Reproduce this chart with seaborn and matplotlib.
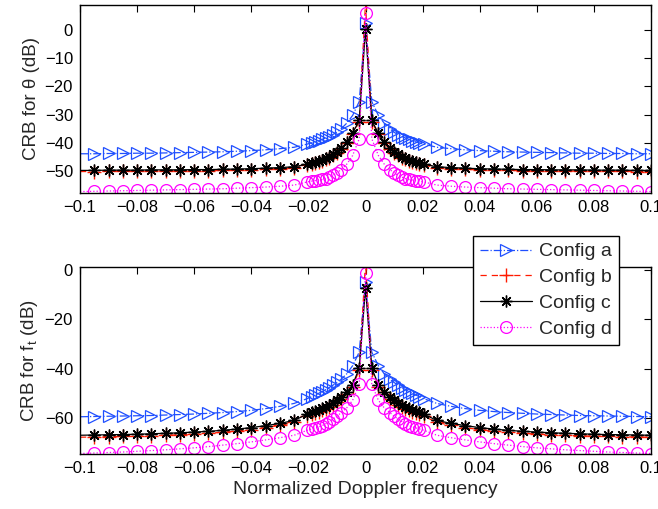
import numpy as np
import pandas as pd
import matplotlib
matplotlib.use("Agg")
import matplotlib.pyplot as plt
import seaborn as sns

# ---------------- data ----------------
# positive half of the normalized Doppler frequency grid (centre outward)
x_half = [0.0022, 0.0045, 0.0065, 0.0085, 0.0100, 0.0115, 0.0128, 0.0140,
          0.0152, 0.0164, 0.0176, 0.0188, 0.0205,
          0.025, 0.030, 0.035, 0.040, 0.045, 0.050, 0.055, 0.060,
          0.065, 0.070, 0.075, 0.080, 0.085, 0.090, 0.095, 0.100]

# ---- CRB for theta (dB): peak value at 0, then centre outward ----
theta_a_peak = 2.4
theta_a = [-25.4, -30.3, -33.0, -35.0, -36.3, -37.1, -37.8, -38.3, -38.8, -39.3,
           -39.7, -40.0, -40.5,
           -41.6, -42.1, -42.5, -42.8, -43.0, -43.2, -43.3, -43.4, -43.5, -43.6,
           -43.7, -43.7, -43.8, -43.8, -43.9, -43.9]
theta_b_peak = 9.5
theta_b = [-32.5, -37.0, -40.2, -42.3, -43.5, -44.5, -45.3, -45.9, -46.5, -46.9,
           -47.3, -47.7, -48.0,
           -48.9, -49.2, -49.4, -49.6, -49.7, -49.8, -49.9, -49.9, -50.0, -50.0,
           -50.0, -50.1, -50.1, -50.1, -50.2, -50.2]
theta_c_peak = 0.2
theta_c = [-32.1, -36.6, -39.8, -41.9, -43.1, -44.1, -44.9, -45.5, -46.1, -46.5,
           -46.9, -47.3, -47.6,
           -48.5, -48.8, -49.0, -49.2, -49.3, -49.4, -49.5, -49.5, -49.6, -49.6,
           -49.6, -49.7, -49.7, -49.7, -49.8, -49.8]
theta_d_peak = 5.9
theta_d = [-38.6, -44.5, -47.5, -49.5, -50.6, -51.6, -52.2, -52.7, -53.0, -53.2,
           -53.4, -53.6, -53.9,
           -55.0, -55.4, -55.7, -55.9, -56.1, -56.3, -56.4, -56.5, -56.6, -56.7,
           -56.8, -56.9, -57.0, -57.1, -57.2, -57.3]

# ---- CRB for f_t (dB) ----
ft_a_peak = -4.7
ft_a = [-33.3, -38.8, -42.0, -44.3, -45.6, -46.8, -47.7, -48.5, -49.3, -50.0,
        -50.7, -51.3, -52.2,
        -54.1, -55.3, -56.2, -56.9, -57.4, -57.8, -58.1, -58.4, -58.6, -58.8,
        -59.0, -59.1, -59.2, -59.3, -59.4, -59.5]
ft_b_peak = 3.0
ft_b = [-40.6, -47.3, -50.4, -52.3, -53.6, -54.7, -55.6, -56.3, -56.9, -57.5,
        -58.0, -58.5, -59.3,
        -61.8, -63.0, -63.9, -64.7, -65.3, -65.8, -66.2, -66.5, -66.8, -67.0,
        -67.2, -67.4, -67.5, -67.6, -67.7, -67.8]
ft_c_peak = -7.4
ft_c = [-39.8, -46.5, -49.6, -51.5, -52.8, -53.9, -54.8, -55.5, -56.1, -56.7,
        -57.2, -57.7, -58.5,
        -61.0, -62.2, -63.1, -63.9, -64.5, -65.0, -65.4, -65.7, -66.0, -66.2,
        -66.4, -66.6, -66.7, -66.8, -66.9, -67.0]
ft_d_peak = -1.3
ft_d = [-46.4, -52.8, -55.8, -57.8, -59.3, -60.5, -61.5, -62.4, -63.1, -63.6,
        -64.0, -64.4, -65.0,
        -67.0, -68.0, -68.9, -69.7, -70.4, -71.0, -71.6, -72.1, -72.5, -72.9,
        -73.2, -73.5, -73.8, -74.0, -74.2, -74.4]

series_names = ["Config a", "Config b", "Config c", "Config d"]
xtick_vals = [-0.1, -0.08, -0.06, -0.04, -0.02, 0, 0.02, 0.04, 0.06, 0.08, 0.1]
xtick_labels = ["\u22120.1", "\u22120.08", "\u22120.06", "\u22120.04", "\u22120.02",
                "0", "0.02", "0.04", "0.06", "0.08", "0.1"]
theta_yticks = [0, -10, -20, -30, -40, -50]
ft_yticks = [0, -20, -40, -60]
theta_ylim = (-57.8, 8.8)
ft_ylim = (-74.6, 1.4)


def full_curve(peak, half):
    # the curves are symmetric about zero Doppler
    xs = [-v for v in reversed(x_half)] + [0.0] + list(x_half)
    ys = list(reversed(half)) + [peak] + list(half)
    return xs, ys


# ---------------- style ----------------
sns.set_theme(style="white")
plt.rcParams.update({
    "font.family": ["Liberation Sans", "DejaVu Sans"],
    "mathtext.fontset": "custom",
    "mathtext.rm": "Liberation Sans",
    "mathtext.it": "Liberation Sans",
    "xtick.direction": "in",
    "ytick.direction": "in",
    "xtick.top": True,
    "ytick.right": True,
    "axes.edgecolor": "black",
    "axes.linewidth": 1.0,
})

BLUE, RED, BLACK, MAG = "#1f4fff", "#ff1a00", "black", "#ff00ff"
styles = [
    dict(color=BLUE, linestyle="-.", marker=">", markersize=8.5,
         markerfacecolor="none", markeredgecolor=BLUE, markeredgewidth=0.9),
    dict(color=RED, linestyle=(0, (5, 4)), marker="+", markersize=9.5,
         markeredgecolor=RED, markeredgewidth=1.0),
    dict(color=BLACK, linestyle="-", marker=(8, 2, 0), markersize=8.5,
         markerfacecolor=BLACK, markeredgecolor=BLACK, markeredgewidth=1.0),
    dict(color=MAG, linestyle=":", marker="o", markersize=8.5,
         markerfacecolor="none", markeredgecolor=MAG, markeredgewidth=0.9),
]

fig = plt.figure(figsize=(6.58, 5.09), dpi=100)
ax1 = fig.add_axes([80 / 658, 1 - 193 / 509, 571 / 658, 188 / 509])
ax2 = fig.add_axes([80 / 658, 1 - 454 / 509, 571 / 658, 187.5 / 509])

panels = [
    (ax1, [(theta_a_peak, theta_a), (theta_b_peak, theta_b),
           (theta_c_peak, theta_c), (theta_d_peak, theta_d)],
     theta_ylim, theta_yticks, "CRB for \u03b8 (dB)"),
    (ax2, [(ft_a_peak, ft_a), (ft_b_peak, ft_b),
           (ft_c_peak, ft_c), (ft_d_peak, ft_d)],
     ft_ylim, ft_yticks, "CRB for f$_\\mathregular{t}$ (dB)"),
]

for ax, curves, ylim, yticks, ylabel in panels:
    for (peak, half), name, st in zip(curves, series_names, styles):
        xs, ys = full_curve(peak, half)
        df = pd.DataFrame({"f": xs, "crb": ys})
        n = len(xs)
        sns.lineplot(data=df, x="f", y="crb", ax=ax, label=name, legend=False,
                     errorbar=None, sort=False, linewidth=0.9,
                     markevery=list(range(1, n)), **st)
    ax.set_xlim(-0.1, 0.1)
    ax.set_ylim(*ylim)
    ax.set_xticks(xtick_vals)
    ax.set_xticklabels(xtick_labels)
    ax.set_yticks(yticks)
    ax.set_yticklabels([("\u2212" + str(-t)) if t < 0 else str(t) for t in yticks])
    ax.tick_params(axis="both", labelsize=12, length=5, width=0.8, pad=5,
                   colors="black")
    ax.set_ylabel(ylabel, fontsize=13.5)
    ax.yaxis.set_label_coords(-0.07, 0.5)
    ax.set_xlabel("")
    for sp in ax.spines.values():
        sp.set_color("black")
        sp.set_linewidth(1.0)

ax2.set_xlabel("Normalized Doppler frequency", fontsize=14)
ax2.xaxis.set_label_coords(0.5, -0.145)

handles, labels = ax2.get_legend_handles_labels()
leg = ax2.legend(handles, labels, loc="upper left",
                 bbox_to_anchor=(473 / 658, 1 - 236 / 509),
                 bbox_transform=fig.transFigure, frameon=True, fancybox=False,
                 edgecolor="black", framealpha=1.0, fontsize=14, numpoints=1,
                 borderaxespad=0.0, handlelength=2.7, handletextpad=0.35,
                 labelspacing=0.42, borderpad=0.35)
leg.get_frame().set_linewidth(1.0)
for h in leg.legend_handles:
    h.set_markevery([1])

fig.savefig("out.png", dpi=100)
